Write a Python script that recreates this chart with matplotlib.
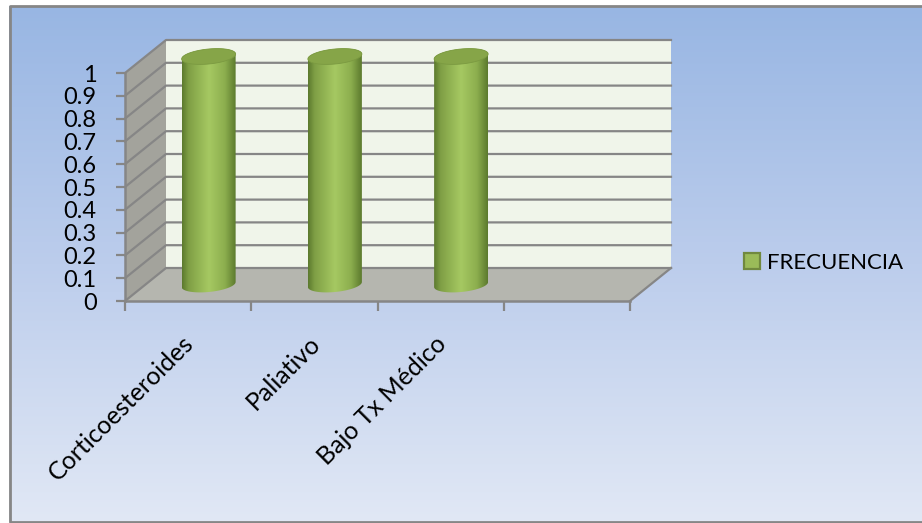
import numpy as np
import matplotlib
matplotlib.use('Agg')
import matplotlib.pyplot as plt
from matplotlib.colors import LinearSegmentedColormap
from matplotlib.patches import Polygon, Patch
from matplotlib.transforms import ScaledTranslation

categories = ['Corticoesteroides', 'Paliativo', 'Bajo Tx Médico']
frecuencia = [1, 1, 1]
y_ticks = [0, 0.1, 0.2, 0.3, 0.4, 0.5, 0.6, 0.7, 0.8, 0.9, 1]
y_labels = ['0', '0.1', '0.2', '0.3', '0.4', '0.5', '0.6', '0.7', '0.8', '0.9', '1']
n_slots = 4

W, H = 922, 523
GRID = '#868686'
plt.rcParams['font.family'] = ['Lato', 'DejaVu Sans']

fig = plt.figure(figsize=(W / 100, H / 100), dpi=100, facecolor='white')

# Background panel with vertical gradient, border on three sides
bg = fig.add_axes([0, 0, 1, 1])
bg.set_axis_off()
bg_cmap = LinearSegmentedColormap.from_list('bg', ['#98b6e3', '#bccdec', '#e1e8f5'])
panel = bg.imshow(np.linspace(0, 1, 256).reshape(-1, 1), cmap=bg_cmap, aspect='auto',
                  extent=[9, W, 522, 6])
bg.set_xlim(0, W)
bg.set_ylim(H, 0)
bg.plot([W, 10, 10, W], [6, 6, 522, 522], color=GRID, lw=2)

# Front plane of the plot box, depth is faked with an oblique offset
ax = fig.add_axes([125 / W, 1 - 301 / H, 505 / W, 228 / H])
ax.patch.set_visible(False)
ax.set_xlim(0, n_slots)
ax.set_ylim(0, 1)
DX = 41 / (505 / n_slots)
DY = 33 / 228


def depth(x, y, d):
    return x + d * DX, y + d * DY


def quad(p, **kw):
    ax.add_patch(Polygon(p, closed=True, clip_on=False, **kw))


# Walls and floor
quad([depth(0, 0, 1), depth(n_slots, 0, 1), depth(n_slots, 1, 1), depth(0, 1, 1)],
     facecolor='#f0f5ea', edgecolor='none', zorder=1)
quad([depth(0, 0, 0), depth(0, 0, 1), depth(0, 1, 1), depth(0, 1, 0)],
     facecolor='#a3a39c', edgecolor='none', zorder=1)
quad([depth(0, 0, 0), depth(n_slots, 0, 0), depth(n_slots, 0, 1), depth(0, 0, 1)],
     facecolor='#b5b6af', edgecolor='none', zorder=1)

# Gridlines run along the side wall and then the back wall
for v in y_ticks:
    xs, ys = zip(depth(0, v, 0), depth(0, v, 1), depth(n_slots, v, 1))
    ax.plot(xs, ys, color=GRID, lw=1.6, clip_on=False, zorder=2)
xs, ys = zip(depth(n_slots, 0, 0), depth(n_slots, 0, 1))
ax.plot(xs, ys, color=GRID, lw=1.6, clip_on=False, zorder=2)

# Cylinders
bar_cmap = LinearSegmentedColormap.from_list(
    'bar', [(0, '#5c7a2e'), (0.12, '#7f9f45'), (0.5, '#a6c962'), (0.8, '#8cae4e'), (1, '#5c7a2e')])
half_w = 27 / (505 / n_slots)
ell_h = 7.5 / 228
tilt = 2.5 / 228

for i, val in enumerate(frecuencia):
    cx, base = depth(i + 0.5, 0, 0.5)
    _, top = depth(i + 0.5, val, 0.5)
    t_low = np.linspace(np.pi, 2 * np.pi, 60)
    t_up = np.linspace(0, np.pi, 60)
    outline = np.vstack([
        np.column_stack([cx + half_w * np.cos(t_low), base + ell_h * np.sin(t_low) + tilt * np.cos(t_low)]),
        np.column_stack([cx + half_w * np.cos(t_up), top + ell_h * np.sin(t_up) + tilt * np.cos(t_up)]),
    ])
    body = Polygon(outline, closed=True, transform=ax.transData, facecolor='none', edgecolor='none')
    ax.add_patch(body)
    grad = ax.imshow(np.linspace(0, 1, 128).reshape(1, -1), cmap=bar_cmap, aspect='auto',
                     extent=[cx - half_w, cx + half_w, base - 0.05, top + 0.05], zorder=3)
    # the cylinder sticks out of the front plane, so only the outline clips it
    grad.set_clip_box(fig.bbox)
    grad.set_clip_path(body.get_path(), body.get_transform())
    t = np.linspace(0, 2 * np.pi, 120)
    cap = np.column_stack([cx + half_w * np.cos(t), top + ell_h * np.sin(t) + tilt * np.cos(t)])
    quad(cap, facecolor='#86a548', edgecolor='#7b9a41', linewidth=0.6, zorder=4)

ax.set_xlim(0, n_slots)
ax.set_ylim(0, 1)

# Axes, ticks and labels
for side in ['top', 'right']:
    ax.spines[side].set_visible(False)
for side in ['left', 'bottom']:
    ax.spines[side].set_color(GRID)
    ax.spines[side].set_linewidth(1.8)
    ax.spines[side].set_zorder(5)
ax.set_yticks(y_ticks)
ax.set_yticklabels(y_labels, fontsize=17, color='black')
ax.tick_params(axis='y', length=6.5, width=1.6, color=GRID, pad=14)
ax.set_xticks(range(n_slots + 1))
ax.set_xticklabels([])
ax.tick_params(axis='x', which='major', length=7, width=1.6, color=GRID)
ax.set_xticks(np.arange(len(categories)) + 0.5, minor=True)
ax.set_xticklabels(categories, minor=True, fontsize=18, rotation=45, ha='right',
                   rotation_mode='anchor', color='black')
ax.tick_params(axis='x', which='minor', length=0, pad=22)
# nudge the slanted labels left of the slot centre
nudge = ScaledTranslation(-6 / 100, 0, fig.dpi_scale_trans)
for lab in ax.get_xticklabels(minor=True):
    lab.set_transform(lab.get_transform() + nudge)

handle = Patch(facecolor='#9bbb59', edgecolor='#71893f', linewidth=1.6)
fig.legend([handle], ['FRECUENCIA'], loc='center left', bbox_to_anchor=(724 / W, 1 - 263 / H),
           frameon=False, fontsize=16, handlelength=0.72, handleheight=0.72, handletextpad=0.32)

fig.savefig('out.png', dpi=100)
